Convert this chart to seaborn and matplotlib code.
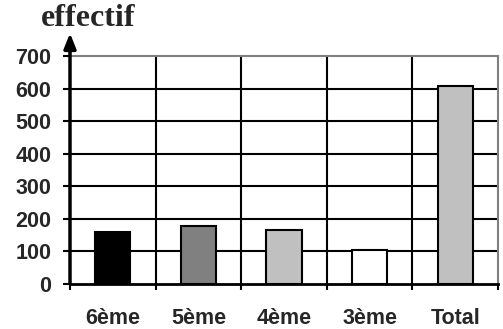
import matplotlib
matplotlib.use("Agg")
import matplotlib.pyplot as plt
import seaborn as sns
import pandas as pd

# Effectifs par niveau
niveaux = ["6ème", "5ème", "4ème", "3ème", "Total"]
effectifs = [160, 178, 165, 105, 608]
couleurs = ["#000000", "#808080", "#c0c0c0", "#ffffff", "#c0c0c0"]
graduations = [0, 100, 200, 300, 400, 500, 600, 700]

sns.set_theme(style="white")
plt.rcParams["font.family"] = ["Liberation Sans", "DejaVu Sans"]

df = pd.DataFrame({"niveau": niveaux, "effectif": effectifs})

fig = plt.figure(figsize=(5.03, 3.29), dpi=100)
ax = fig.add_axes([70 / 503, 1 - 284 / 329, 428 / 503, 228 / 329])

sns.barplot(data=df, x="niveau", y="effectif", hue="niveau",
            palette=couleurs, width=0.41, edgecolor="black",
            linewidth=1.5, legend=False, ax=ax, zorder=3)

ax.set_xlim(-0.5, len(niveaux) - 0.5)
ax.set_ylim(0, 700)
ax.set_yticks(graduations)
ax.set_yticklabels([str(v) for v in graduations], fontsize=15.5,
                   fontweight="bold")
ax.set_xticks(range(len(niveaux)))
ax.set_xticklabels(niveaux, fontsize=15.5, fontweight="bold")
ax.set_xticks([i - 0.5 for i in range(len(niveaux) + 1)], minor=True)
ax.set_xlabel("")
ax.set_ylabel("")

# grille noire
ax.grid(False)
for v in graduations[1:-1]:
    ax.axhline(v, color="black", lw=1.5, zorder=1)
for b in range(1, len(niveaux)):
    ax.axvline(b - 0.5, color="black", lw=1.5, zorder=1)

ax.tick_params(axis="x", which="major", length=0, pad=17)
ax.tick_params(axis="x", which="minor", length=4.5, width=1.5,
               color="black", direction="out", bottom=True)
ax.tick_params(axis="y", which="major", length=5, width=1.5,
               color="black", direction="out", left=True, pad=8.5)

for side in ["top", "right"]:
    ax.spines[side].set_color("#808080")
    ax.spines[side].set_linewidth(1.5)
ax.spines["bottom"].set_color("black")
ax.spines["bottom"].set_linewidth(2)
ax.spines["left"].set_visible(False)

# axe vertical fléché
ax.annotate("", xy=(0, 1.10), xytext=(0, 0), xycoords="axes fraction",
            textcoords="axes fraction",
            arrowprops=dict(arrowstyle="-|>,head_length=0.75,head_width=0.3",
                            color="black", lw=2.5, shrinkA=0, shrinkB=0),
            annotation_clip=False, zorder=5)

fig.text(88 / 503, 1 - 18 / 329, "effectif", ha="center", va="center",
         fontsize=23, fontweight="bold",
         family=["Liberation Serif", "DejaVu Serif"])

fig.savefig("out.png", dpi=100)
